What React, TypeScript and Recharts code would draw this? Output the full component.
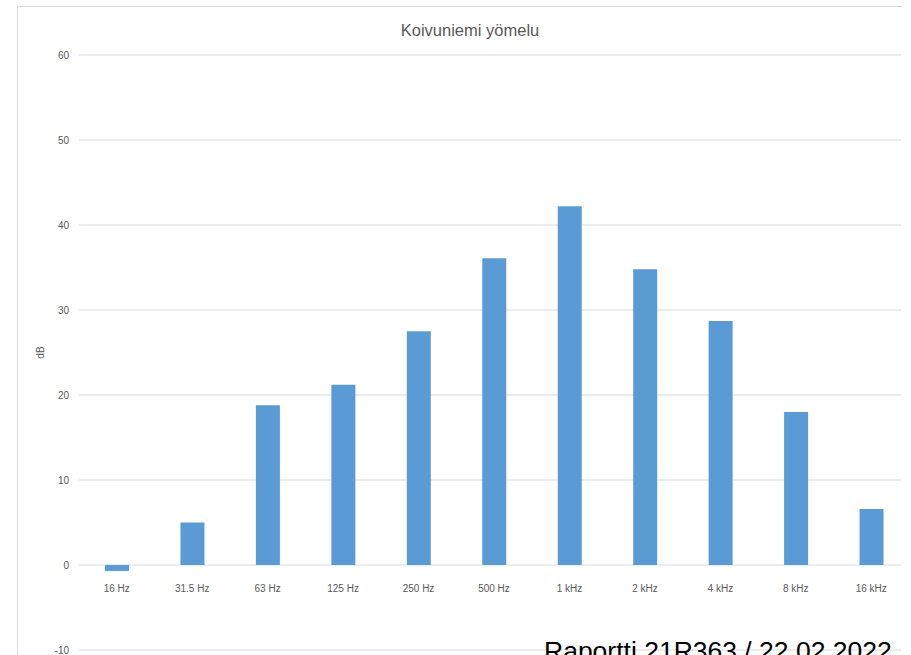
import { BarChart, Bar, XAxis, YAxis, CartesianGrid } from "recharts";

const categories = ["16 Hz", "31.5 Hz", "63 Hz", "125 Hz", "250 Hz", "500 Hz", "1 kHz", "2 kHz", "4 kHz", "8 kHz", "16 kHz"];
const levels = [-0.7, 5.0, 18.8, 21.2, 27.5, 36.1, 42.2, 34.8, 28.7, 18.0, 6.6];
const yTicks = [-10, 0, 10, 20, 30, 40, 50, 60];

const data = categories.map((band, i) => ({ band, level: levels[i] }));

const FONT = "'Liberation Sans', Arial, sans-serif";
const CHART_W = 911;
const CHART_H = 700;
const MARGIN = { top: 55, right: 10, bottom: 30, left: 17 };
const X_AXIS_H = 20;
const PLOT_H = CHART_H - MARGIN.top - MARGIN.bottom - X_AXIS_H;
const Y_MIN = yTicks[0];
const Y_MAX = yTicks[yTicks.length - 1];
// Excel draws the category labels next to the zero line, not at the bottom
const zeroLift = (PLOT_H * (0 - Y_MIN)) / (Y_MAX - Y_MIN);

function CategoryTick({ x, y, payload }: any) {
  return (
    <text x={x} y={y - zeroLift + 16} textAnchor="middle" dominantBaseline="middle" fill="#595959" fontSize={10} fontFamily={FONT}>
      {payload.value}
    </text>
  );
}

function DbLabel({ viewBox }: any) {
  const cx = viewBox.x + 24;
  const cy = viewBox.y + viewBox.height / 2;
  return (
    <text x={cx} y={cy} transform={`rotate(-90 ${cx} ${cy})`} textAnchor="middle" dominantBaseline="middle" fill="#595959" fontSize={10} fontFamily={FONT}>
      dB
    </text>
  );
}

export default function App() {
  return (
    <div style={{ position: "absolute", left: 0, top: 0, width: 911, height: 655, overflow: "hidden" }}>
      <div style={{ position: "absolute", left: 17, top: 6, width: 884, height: 1000, borderTop: "1px solid #d9d9d9", borderLeft: "1px solid #d9d9d9" }} />
      <div
        style={{
          position: "absolute",
          left: 17,
          width: 906,
          top: 21,
          textAlign: "center",
          fontFamily: FONT,
          fontSize: 16.5,
          lineHeight: "18px",
          color: "#595959",
        }}
      >
        Koivuniemi yömelu
      </div>
      <div style={{ position: "absolute", left: 0, top: 0 }}>
        <BarChart width={CHART_W} height={CHART_H} data={data} margin={MARGIN} barSize={24}>
          <CartesianGrid horizontal vertical={false} stroke="#d9d9d9" />
          <XAxis
            dataKey="band"
            height={X_AXIS_H}
            padding={{ left: 0, right: -8 }}
            axisLine={false}
            tickLine={false}
            tick={<CategoryTick />}
            interval={0}
          />
          <YAxis
            width={62}
            domain={[Y_MIN, Y_MAX]}
            ticks={yTicks}
            interval={0}
            axisLine={false}
            tickLine={false}
            tickSize={0}
            tickMargin={10}
            tick={{ fill: "#595959", fontSize: 10, fontFamily: FONT }}
            label={<DbLabel />}
          />
          <Bar dataKey="level" fill="#5b9bd5" isAnimationActive={false} />
        </BarChart>
      </div>
      <div
        style={{
          position: "absolute",
          left: 544,
          top: 638,
          fontFamily: FONT,
          fontSize: 26.5,
          lineHeight: "26px",
          color: "#000",
          whiteSpace: "nowrap",
        }}
      >
        Raportti 21R363 / 22.02.2022
      </div>
    </div>
  );
}
